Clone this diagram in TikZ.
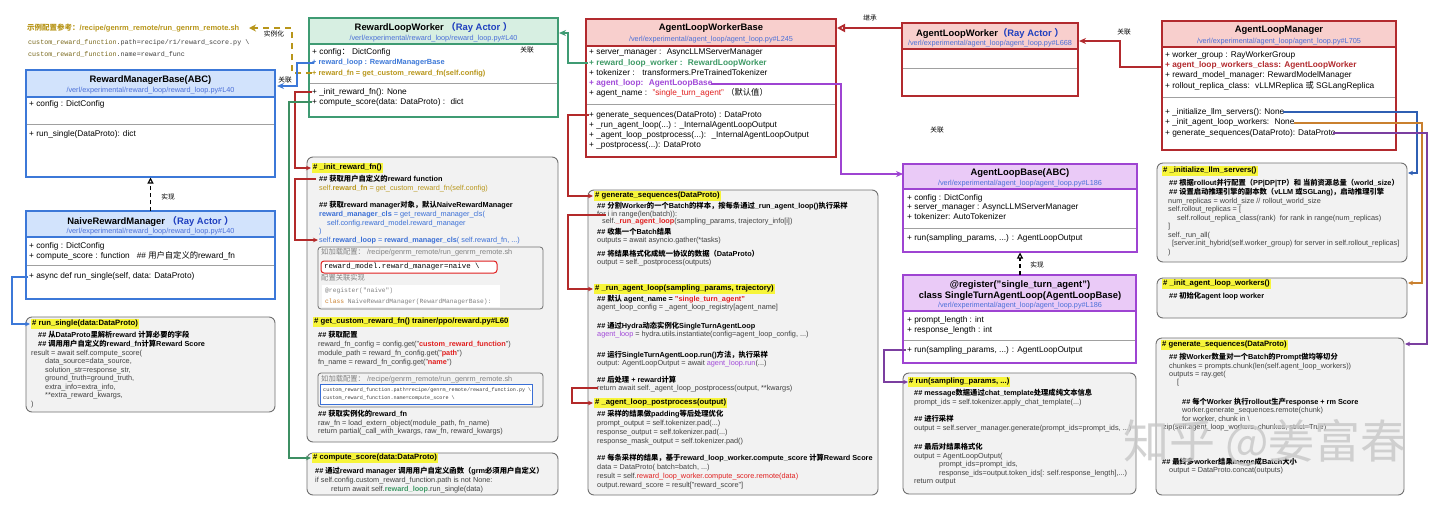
\documentclass[tikz,border=0pt]{standalone}
\usepackage{fontspec}
\setmainfont{Liberation Sans}
\setmonofont{Liberation Mono}
\newfontfamily\cjk{Noto Sans CJK SC}
\usetikzlibrary{arrows.meta}

% Han characters and full-width punctuation go to the CJK font
\XeTeXinterchartokenstate=1
\newXeTeXintercharclass\zhclass
\newcount\zhc
\zhc="4E00 \loop\XeTeXcharclass\zhc=\zhclass \advance\zhc by 1 \ifnum\zhc<"A000 \repeat
\zhc="3000 \loop\XeTeXcharclass\zhc=\zhclass \advance\zhc by 1 \ifnum\zhc<"3040 \repeat
\zhc="FF00 \loop\XeTeXcharclass\zhc=\zhclass \advance\zhc by 1 \ifnum\zhc<"FFF0 \repeat
\XeTeXinterchartoks 0 \zhclass = {\begingroup\cjk}
\XeTeXinterchartoks 4095 \zhclass = {\begingroup\cjk}
\XeTeXinterchartoks \zhclass 0 = {\endgroup}
\XeTeXinterchartoks \zhclass 4095 = {\endgroup}

\definecolor{rmblue}{HTML}{3C78D8}
\definecolor{rmfill}{HTML}{D2E3FC}
\definecolor{rlgreen}{HTML}{3F9B73}
\definecolor{rlfill}{HTML}{D7EFE2}
\definecolor{alred}{HTML}{B22A2E}
\definecolor{alfill}{HTML}{F8CFCD}
\definecolor{albpurple}{HTML}{9E44D2}
\definecolor{albfill}{HTML}{EACAF7}
\definecolor{pathblue}{HTML}{4A6FD8}
\definecolor{actorblue}{HTML}{1F3FBF}
\definecolor{gold}{HTML}{B8961A}
\definecolor{monoolive}{HTML}{7A6A1E}
\definecolor{codegray}{HTML}{404040}
\definecolor{boxgray}{HTML}{F2F2F2}
\definecolor{boxline}{HTML}{707070}
\definecolor{divgray}{HTML}{A0A0A0}
\definecolor{hlyellow}{HTML}{F7F53A}
\definecolor{codered}{HTML}{E02020}
\definecolor{codeblue}{HTML}{3A6FD6}
\definecolor{codepurple}{HTML}{A149D8}
\definecolor{codegreen}{HTML}{3E9A66}
\definecolor{lnred}{HTML}{B32A2A}
\definecolor{lngreen}{HTML}{3D8F63}
\definecolor{lnblue}{HTML}{2F5FB3}
\definecolor{lnorange}{HTML}{C9802F}
\definecolor{lnpurple}{HTML}{7B3FA0}

\newcommand\redbf[1]{\textcolor{codered}{\bfseries #1}}
\newcommand\cmtline[1]{\textcolor{black}{\bfseries #1}}

\begin{document}
\begin{tikzpicture}[x=1pt, y=-1pt,
  ttl/.style={font=\bfseries\fontsize{9.4}{11}\selectfont, inner sep=0pt},
  pth/.style={font=\fontsize{7.3}{8}\selectfont, text=pathblue, inner sep=0pt},
  mbr/.style={anchor=north west, align=left, inner sep=0pt, font=\fontsize{8.3}{#1}\selectfont},
  mbr/.default=10.3,
  code/.style={anchor=north west, align=left, inner sep=0pt, text=codegray, font=\fontsize{7.3}{#1}\selectfont},
  code/.default=8.6,
  mono/.style={anchor=west, inner sep=0pt, font=\ttfamily\fontsize{#1}{#1}\selectfont},
  hl/.style={anchor=west, fill=hlyellow, inner xsep=1pt, inner ysep=1.8pt, font=\bfseries\fontsize{7.7}{9}\selectfont},
  lbl/.style={inner sep=0pt, font=\fontsize{6.7}{8}\selectfont},
  codebox/.style={draw=boxline, fill=boxgray, line width=0.9pt, rounded corners=6pt},
  divline/.style={draw=divgray, line width=0.7pt},
  assoc/.style={line width=1.6pt, -{Stealth[length=7pt,width=6pt]}},
  call/.style={line width=1.1pt, -{Stealth[length=5pt,width=4.5pt]}},
  realize/.style={line width=1.1pt, dash pattern=on 4pt off 3pt, -{Triangle[open,length=6pt,width=6pt]}},
]
\useasboundingbox (0,0) rectangle (1440,504);
\fill[white] (0,0) rectangle (1440,504);

% config reference
\node[anchor=west, inner sep=0pt, font=\bfseries\fontsize{7.5}{9}\selectfont, text=gold] (cfgref) at (27,28) {示例配置参考：/recipe/genrm\_remote/run\_genrm\_remote.sh};
\node[mono=6.7, text=codegray] (cfgpath) at (28,43) {\textcolor{monoolive}{custom\_reward\_function}.path=recipe/r1/reward\_score.py \textbackslash};
\node[mono=6.7, text=codegray] (cfgname) at (28,54) {\textcolor{monoolive}{custom\_reward\_function}.name=reward\_func};

% RewardManagerBase
\fill[rmfill] (26,70) rectangle (275,97);
\draw[divline] (26,124) -- (275,124);
\draw[rmblue, line width=1.2pt] (26,97) -- (275,97);
\draw[rmblue, line width=1.5pt] (26,70) rectangle (275,177);
\node[ttl] (rmb-title) at (150.5,80.5) {RewardManagerBase(ABC)};
\node[pth] (rmb-path) at (150.5,91) {/verl/experimental/reward\_loop/reward\_loop.py\#L40};
\node[mbr] (rmb-attr) at (29,100) {+ config : DictConfig};
\node[mbr] (rmb-ops) at (29,130) {+ run\_single(DataProto): dict};

% NaiveRewardManager
\fill[rmfill] (26,211) rectangle (275,237);
\draw[divline] (26,265) -- (275,265);
\draw[rmblue, line width=1.2pt] (26,237) -- (275,237);
\draw[rmblue, line width=1.5pt] (26,211) rectangle (275,299);
\node[ttl] (nrm-title) at (150.5,221) {NaiveRewardManager \textcolor{actorblue}{（Ray Actor ）}};
\node[pth] (nrm-path) at (150.5,232) {/verl/experimental/reward\_loop/reward\_loop.py\#L40};
\node[mbr=10] (nrm-attr) at (29,242) {+ config : DictConfig\\+ compute\_score : function \ \ \#\# 用户自定义的reward\_fn};
\node[mbr] (nrm-ops) at (29,272) {+ async def run\_single(self, data: DataProto)};

% RewardLoopWorker
\fill[rlfill] (309,18) rectangle (558,44);
\draw[divline] (309,83) -- (558,83);
\draw[rlgreen, line width=1.2pt] (309,44) -- (558,44);
\draw[rlgreen, line width=1.5pt] (309,18) rectangle (558,117);
\node[ttl] (rlw-title) at (433.5,27.5) {RewardLoopWorker \textcolor{actorblue}{（Ray Actor ）}};
\node[pth] (rlw-path) at (433.5,39) {/verl/experimental/reward\_loop/reward\_loop.py\#L40};
\node[mbr=10.5] (rlw-attr) at (312,48) {+ config： DictConfig\\
  {\fontsize{7.4}{10.5}\selectfont\textcolor{rmblue}{\bfseries + reward\_loop : RewardManagerBase}}\\
  {\fontsize{7.4}{10.5}\selectfont\textcolor{gold}{\bfseries + reward\_fn = get\_custom\_reward\_fn(self.config)}}};
\node[mbr] (rlw-ops) at (312,88) {+ \_init\_reward\_fn(): None\\+ compute\_score(data: DataProto) : \ dict};
\node[lbl] (rlw-lbl) at (527,50) {关联};

% AgentLoopWorkerBase
\fill[alfill] (586,19) rectangle (836,46);
\draw[divline] (586,104) -- (836,104);
\draw[alred, line width=1.2pt] (586,46) -- (836,46);
\draw[alred, line width=1.5pt] (586,19) rectangle (836,157);
\node[ttl] (albw-title) at (711,28.5) {AgentLoopWorkerBase};
\node[pth] (albw-path) at (711,40) {/verl/experimental/agent\_loop/agent\_loop.py\#L245};
\node[mbr=10.25] (albw-attr) at (589,49) {+ server\_manager : \ AsyncLLMServerManager\\
  \textcolor{codegreen}{\bfseries + reward\_loop\_worker : \ RewardLoopWorker}\\
  + tokenizer : \ \ transformers.PreTrainedTokenizer\\
  \textcolor{codepurple}{\bfseries + agent\_loop: \ AgentLoopBase}\\
  + agent\_name : \ \textcolor{codered}{"single\_turn\_agent"} （默认值）};
\node[mbr=10] (albw-ops) at (589,111) {+ generate\_sequences(DataProto) : DataProto\\
  + \_run\_agent\_loop(...) : \_InternalAgentLoopOutput\\
  + \_agent\_loop\_postprocess(...): \ \_InternalAgentLoopOutput\\
  + \_postprocess(...): DataProto};

% AgentLoopWorker
\fill[alfill] (902,23) rectangle (1078,49);
\draw[divline] (902,68) -- (1078,68);
\draw[alred, line width=1.2pt] (902,49) -- (1078,49);
\draw[alred, line width=1.5pt] (902,23) rectangle (1078,96);
\node[ttl] (alw-title) at (990,33) {AgentLoopWorker\textcolor{actorblue}{（Ray Actor ）}};
\node[pth] (alw-path) at (990,44) {/verl/experimental/agent\_loop/agent\_loop.py\#L668};

% AgentLoopManager
\fill[alfill] (1162,21) rectangle (1396,47);
\draw[divline] (1162,97) -- (1396,97);
\draw[alred, line width=1.2pt] (1162,47) -- (1396,47);
\draw[alred, line width=1.5pt] (1162,21) rectangle (1396,150);
\node[ttl] (alm-title) at (1279,30.5) {AgentLoopManager};
\node[pth] (alm-path) at (1279,42) {/verl/experimental/agent\_loop/agent\_loop.py\#L705};
\node[mbr] (alm-attr) at (1165,51) {+ worker\_group : RayWorkerGroup\\
  \textcolor{alred}{\bfseries + agent\_loop\_workers\_class: AgentLoopWorker}\\
  + reward\_model\_manager: RewardModelManager\\
  + rollout\_replica\_class: \ vLLMReplica 或 SGLangReplica};
\node[mbr=10.5] (alm-ops) at (1165,108) {+ \_initialize\_llm\_servers(): None\\
  + \_init\_agent\_loop\_workers: \ None\\
  + generate\_sequences(DataProto): DataProto};

% AgentLoopBase
\fill[albfill] (903,164) rectangle (1137,189);
\draw[divline] (903,228) -- (1137,228);
\draw[albpurple, line width=1.2pt] (903,189) -- (1137,189);
\draw[albpurple, line width=1.5pt] (903,164) rectangle (1137,252);
\node[ttl] (alb-title) at (1020,173.5) {AgentLoopBase(ABC)};
\node[pth] (alb-path) at (1020,184) {/verl/experimental/agent\_loop/agent\_loop.py\#L186};
\node[mbr=9.6] (alb-attr) at (907,194) {+ config : DictConfig\\+ server\_manager : AsyncLLMServerManager\\+ tokenizer: AutoTokenizer};
\node[mbr] (alb-ops) at (907,234) {+ run(sampling\_params, ...) : AgentLoopOutput};

% SingleTurnAgentLoop
\fill[albfill] (903,275) rectangle (1136,311);
\draw[divline] (903,340) -- (1136,340);
\draw[albpurple, line width=1.2pt] (903,311) -- (1136,311);
\draw[albpurple, line width=1.5pt] (903,275) rectangle (1136,363);
\node[ttl, align=center] (stal-title) at (1020,290.5) {@register("single\_turn\_agent")\\class SingleTurnAgentLoop(AgentLoopBase)};
\node[pth] (stal-path) at (1020,306) {/verl/experimental/agent\_loop/agent\_loop.py\#L186};
\node[mbr=10] (stal-attr) at (907,316) {+ prompt\_length : int\\+ response\_length : int};
\node[mbr] (stal-ops) at (907,346) {+ run(sampling\_params, ...) : AgentLoopOutput};

% run_single
\draw[codebox] (26,317) rectangle (275,412);
\node[hl] (rs-h) at (31,324) {\# run\_single(data:DataProto)};
\node[code=9] (rs-cmt) at (38,331.2) {\cmtline{\#\# 从DataProto里解析reward 计算必要的字段}\\\cmtline{\#\# 调用用户自定义的reward\_fn计算Reward Score}};
\node[code=8.5] (rs-code) at (31,349.6) {result = await self.compute\_score(\\
  \hspace*{14pt}data\_source=data\_source,\\
  \hspace*{14pt}solution\_str=response\_str,\\
  \hspace*{14pt}ground\_truth=ground\_truth,\\
  \hspace*{14pt}extra\_info=extra\_info,\\
  \hspace*{14pt}**extra\_reward\_kwargs,\\
  )};

% _init_reward_fn and get_custom_reward_fn
\draw[codebox] (307,157) rectangle (558,442);
\node[hl] (irf-h) at (312,168) {\# \_init\_reward\_fn()};
\node[code=8.7] (irf-code) at (319,175.2) {\cmtline{\#\# 获取用户自定义的reward function}\\
  \textcolor{gold}{self.\textbf{reward\_fn} = get\_custom\_reward\_fn(self.config)}\\[8.7pt]
  \cmtline{\#\# 获取reward manager对象，默认NaiveRewardManager}\\
  \textcolor{codeblue}{\textbf{reward\_manager\_cls} = get\_reward\_manager\_cls(}\\
  \textcolor{codeblue}{\hspace*{8pt}self.config.reward\_model.reward\_manager}\\
  \textcolor{codeblue}{)}\\
  \textcolor{codeblue}{self.\textbf{reward\_loop} = \textbf{reward\_manager\_cls}( self.reward\_fn, ...)}};
\draw[boxline, line width=0.8pt, rounded corners=3pt, fill=boxgray] (318,247) rectangle (543,309);
\node[code, text=gray] (irf-load) at (321,248.4) {如加载配置： /recipe/genrm\_remote/run\_genrm\_remote.sh};
\draw[codered, line width=1pt, rounded corners=3pt, fill=white] (321,261) rectangle (497,273);
\node[mono=7.4, text=black] (irf-naive) at (324,267) {reward\_model.reward\_manager=naive \textbackslash};
\node[code, text=gray] (irf-impl) at (321,274.4) {配置关联实现};
\fill[white] (322,285) rectangle (500,307);
\node[mono=6.3, text=gray] (irf-reg) at (325,291) {@register("naive")};
\node[mono=6.3, text=gray] (irf-cls) at (325,302) {\textcolor{lnorange}{class} NaiveRewardManager(RewardManagerBase):};
\node[hl] (gcr-h) at (313,322) {\# get\_custom\_reward\_fn() trainer/ppo/reward.py\#L60};
\node[code=9] (gcr-code) at (318,331.2) {\cmtline{\#\# 获取配置}\\
  reward\_fn\_config = config.get("\redbf{custom\_reward\_function}")\\
  module\_path = reward\_fn\_config.get("\redbf{path}")\\
  fn\_name = reward\_fn\_config.get("\redbf{name}")};
\draw[boxline, line width=0.8pt, rounded corners=3pt, fill=boxgray] (318,373) rectangle (543,407);
\node[code, text=gray] (gcr-load) at (321,375.4) {如加载配置： /recipe/genrm\_remote/run\_genrm\_remote.sh};
\draw[codeblue, line width=1pt, fill=white] (320,384) rectangle (532,404);
\node[mono=5.1, text=codegray] (gcr-path) at (323,390) {custom\_reward\_function.path=recipe/genrm\_remote/reward\_function.py \textbackslash};
\node[mono=5.1, text=codegray] (gcr-name) at (323,398) {custom\_reward\_function.name=compute\_score \textbackslash};
\node[code=8.6] (gcr-ret) at (318,410.2) {\cmtline{\#\# 获取实例化的reward\_fn}\\
  raw\_fn = load\_extern\_object(module\_path, fn\_name)\\
  return partial(\_call\_with\_kwargs, raw\_fn, reward\_kwargs)};

% compute_score
\draw[codebox] (307,453) rectangle (558,495);
\node[hl] (cs-h) at (312,458) {\# compute\_score(data:DataProto)};
\node[code=9] (cs-code) at (315,467.2) {\cmtline{\#\# 通过reward manager 调用用户自定义函数（grm必须用户自定义）}\\
  if self.config.custom\_reward\_function.path is not None:\\
  \hspace*{16pt}return await self.\textcolor{codegreen}{\bfseries reward\_loop}.run\_single(data)};

% generate_sequences / _run_agent_loop / _agent_loop_postprocess
\draw[codebox] (588,190) rectangle (878,495);
\node[hl] (gs-h) at (594,196) {\# generate\_sequences(DataProto)};
\node[code=7.6] (gs-split) at (597,202.2) {\cmtline{\#\# 分割Worker的一个Batch的样本，按每条通过\_run\_agent\_loop()执行采样}\\
  for i in range(len(batch)):\\
  \hspace*{5pt}self.\redbf{\_run\_agent\_loop}(sampling\_params, trajectory\_info[i])};
\node[code=8] (gs-gather) at (597,228.2) {\cmtline{\#\# 收集一个Batch结果}\\outputs = await asyncio.gather(*tasks)};
\node[code=7.6] (gs-post) at (597,250.2) {\cmtline{\#\# 将结果格式化成统一协议的数据（DataProto）}\\output = self.\_postprocess(outputs)};
\node[hl] (ral-h) at (594,289) {\# \_run\_agent\_loop(sampling\_params, trajectory)};
\node[code=8] (ral-name) at (597,295.2) {\cmtline{\#\# 默认 agent\_name = \textcolor{codered}{"single\_turn\_agent"}}\\agent\_loop\_config = \_agent\_loop\_registry[agent\_name]};
\node[code=7.6] (ral-hydra) at (597,322.2) {\cmtline{\#\# 通过Hydra动态实例化SingleTurnAgentLoop}\\\textcolor{codepurple}{agent\_loop} = hydra.utils.instantiate(config=agent\_loop\_config, ...)};
\node[code=8] (ral-run) at (597,351.2) {\cmtline{\#\# 运行SingleTurnAgentLoop.run()方法，执行采样}\\output: AgentLoopOutput = await \textcolor{codepurple}{agent\_loop.run}(...)};
\node[code=8] (ral-ret) at (597,376.2) {\cmtline{\#\# 后处理 + reward计算}\\return await self.\_agent\_loop\_postprocess(output, **kwargs)};
\node[hl] (alp-h) at (594,403) {\# \_agent\_loop\_postprocess(output)};
\node[code=9] (alp-pad) at (597,410.2) {\cmtline{\#\# 采样的结果做padding等后处理优化}\\
  prompt\_output = self.tokenizer.pad(...)\\
  response\_output = self.tokenizer.pad(...)\\
  response\_mask\_output = self.tokenizer.pad()};
\node[code=9] (alp-score) at (597,454.2) {\cmtline{\#\# 每条采样的结果，基于reward\_loop\_worker.compute\_score 计算Reward Score}\\
  data = DataProto( batch=batch, ...)\\
  result = self.\textcolor{codered}{reward\_loop\_worker.compute\_score.remote(data)}\\
  output.reward\_score = result["reward\_score"]};

% run(sampling_params)
\draw[codebox] (903,373) rectangle (1136,494);
\node[hl] (run-h) at (908,382) {\# run(sampling\_params, ...)};
\node[code=9] (run-tpl) at (914,389.2) {\cmtline{\#\# message数据通过chat\_template处理成纯文本信息}\\prompt\_ids = self.tokenizer.apply\_chat\_template(...)};
\node[code=9] (run-gen) at (914,415.2) {\cmtline{\#\# 进行采样}\\output = self.server\_manager.generate(prompt\_ids=prompt\_ids, ...)};
\node[code=8.5] (run-out) at (914,443.2) {\cmtline{\#\# 最后对结果格式化}\\
  output = AgentLoopOutput(\\
  \hspace*{25pt}prompt\_ids=prompt\_ids,\\
  \hspace*{25pt}response\_ids=output.token\_ids[: self.response\_length],...)\\
  return output};

% _initialize_llm_servers
\draw[codebox] (1157,163) rectangle (1407,262);
\node[hl] (ils-h) at (1162,171) {\# \_initialize\_llm\_servers()};
\node[code=9] (ils-cmt) at (1169,179.2) {\cmtline{\#\# 根据rollout并行配置（PP|DP|TP）和 当前资源总量（world\_size）}\\
  \cmtline{\#\# 设置启动推理引擎的副本数（vLLM 或SGLang)，启动推理引擎}};
\node[code=8.5] (ils-code) at (1168,197.6) {num\_replicas = world\_size // rollout\_world\_size\\
  self.rollout\_replicas = [\\
  \hspace*{9pt}self.rollout\_replica\_class(rank)\ \ for rank in range(num\_replicas)\\
  ]\\
  self.\_run\_all(\\
  \hspace*{4pt}[server.init\_hybrid(self.worker\_group) for server in self.rollout\_replicas]\\
  )};

% _init_agent_loop_workers
\draw[codebox] (1157,278) rectangle (1407,318);
\node[hl] (ialw-h) at (1162,284) {\# \_init\_agent\_loop\_workers()};
\node[code] (ialw-cmt) at (1169,292.2) {\cmtline{\#\# 初始化agent loop worker}};

% AgentLoopManager.generate_sequences
\draw[codebox] (1156,338) rectangle (1404,495);
\node[hl] (mgs-h) at (1161,345) {\# generate\_sequences(DataProto)};
\node[code=8.4] (mgs-chunk) at (1169,353.2) {\cmtline{\#\# 按Worker数量对一个Batch的Prompt做均等切分}\\
  chunkes = prompts.chunk(len(self.agent\_loop\_workers))\\
  outputs = ray.get(\\
  \hspace*{8pt}[};
\node[code=8.2] (mgs-worker) at (1182,398.2) {\cmtline{\#\# 每个Worker 执行rollout生产response + rm Score}\\
  worker.generate\_sequences.remote(chunk)\\
  for worker, chunk in \textbackslash};
\node[code] (mgs-zip) at (1163,423.6) {zip(self.agent\_loop\_workers, chunkes, strict=True)};
\node[code=8] (mgs-merge) at (1162,458.2) {\cmtline{\#\# 最终多worker结果merge成Batch大小}\\\hspace*{7pt}output = DataProto.concat(outputs)};

% connector end points
\coordinate (rlw-fn) at (312,73);
\coordinate (cfg-in) at (249,28);
\coordinate (rlw-loop) at (314,63);
\coordinate (rmb-in) at (277,86);
\coordinate (albw-rlw) at (588,63);
\coordinate (rlw-in) at (559,33);
\coordinate (alw-out) at (902,28);
\coordinate (albw-in) at (837,28);
\coordinate (alm-cls) at (1163,67);
\coordinate (alw-in) at (1079,41);
\coordinate (albw-loop) at (711,84);
\coordinate (alb-in) at (903,174);
\coordinate (nrm-top) at (150.5,211);
\coordinate (rmb-bot) at (150.5,177.5);
\coordinate (stal-top) at (1020,275);
\coordinate (alb-bot) at (1020,252.5);
\coordinate (nrm-run) at (28,277);
\coordinate (rs-in) at (30,324);
\coordinate (rlw-init) at (312,92);
\coordinate (irf-in) at (311,168);
\coordinate (irf-fn) at (316,179);
\coordinate (irf-loop) at (318,240);
\coordinate (rlw-score) at (312,102);
\coordinate (cs-in) at (311,458);
\coordinate (albw-gen) at (589,115);
\coordinate (gs-in) at (593,196);
\coordinate (gs-for) at (606,215);
\coordinate (ral-in) at (593,289);
\coordinate (ral-out) at (598,388);
\coordinate (alp-in) at (593,403);
\coordinate (stal-run) at (906,350);
\coordinate (run-in) at (908,382);
\coordinate (alm-init) at (1283,112);
\coordinate (ils-in) at (1408,173);
\coordinate (alm-workers) at (1294,123);
\coordinate (ialw-in) at (1408,283);
\coordinate (alm-gen) at (1333,133);
\coordinate (mgs-in) at (1405,344);

% class relations
\draw[gold, line width=1.8pt, dash pattern=on 6pt off 5pt, -{Stealth[length=7pt,width=7pt]}] (rlw-fn) -- ++(-20,0) |- (cfg-in);
\node[lbl] (inst-lbl) at (274,34) {实例化};
\draw[assoc, rmblue] (rlw-loop) -- ++(-17,0) |- (rmb-in);
\node[lbl] (rmb-lbl) at (285,80) {关联};
\draw[assoc, rlgreen] (albw-rlw) -- ++(-20,0) |- (rlw-in);
\draw[alred, line width=1.8pt, -{Triangle[open,length=8pt,width=8pt]}] (alw-out) -- (albw-in);
\node[lbl] (inh-lbl) at (870,18) {继承};
\draw[assoc, alred, line width=2pt] (alm-cls) -- ++(-43,0) |- (alw-in);
\node[lbl] (alw-lbl) at (1124,32) {关联};
\draw[assoc, albpurple, line width=1.8pt] (albw-loop) -- ++(130,0) |- (alb-in);
\node[lbl] (alb-lbl) at (937,130) {关联};
\draw[realize] (nrm-top) -- (rmb-bot);
\node[lbl] (rmb-impl) at (168,197) {实现};
\draw[realize] (stal-top) -- (alb-bot);
\node[lbl] (alb-impl) at (1037,265) {实现};

% method to code links
\draw[call, rmblue] (nrm-run) -- ++(-16,0) |- (rs-in);
\draw[call, lnred] (rlw-init) -- ++(-17,0) |- (irf-in);
\draw[call, lnred] (irf-fn) -- ++(-21,0) |- (irf-loop);
\draw[call, lngreen] (rlw-score) -- ++(-23,0) |- (cs-in);
\draw[call, lnred] (albw-gen) -- ++(-21,0) |- (gs-in);
\draw[call, lnred] (gs-for) -- ++(-38,0) |- (ral-in);
\draw[call, lnred] (ral-out) -- ++(-26,0) |- (alp-in);
\draw[call, lnpurple] (stal-run) -- ++(-22,0) |- (run-in);
\draw[call, lnblue] (alm-init) -- ++(134,0) |- (ils-in);
\draw[call, lnorange] (alm-workers) -- ++(128,0) |- (ialw-in);
\draw[call, lnpurple] (alm-gen) -- ++(94,0) |- (mgs-in);

% watermark
\node[inner sep=0pt, font=\cjk\fontsize{46}{50}\selectfont, text=black!22, opacity=0.8] (wmark) at (1265,443) {知乎 @姜富春};
\end{tikzpicture}
\end{document}
